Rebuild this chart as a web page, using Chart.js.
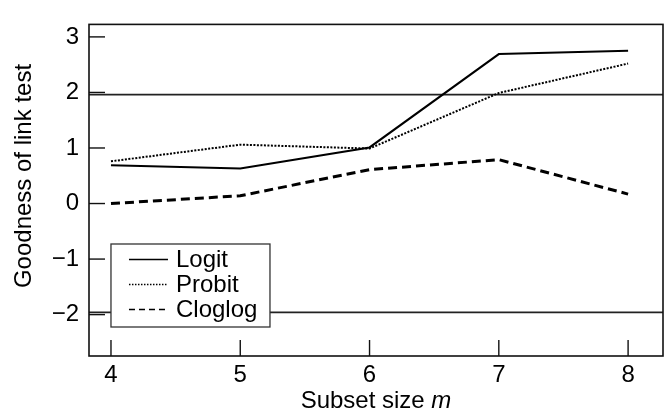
<!DOCTYPE html>
<html>
<head>
<meta charset="utf-8">
<script src="https://cdn.jsdelivr.net/npm/chart.js@4/dist/chart.umd.min.js"></script>
<style>
  html, body { margin: 0; padding: 0; background: #fff; }
  #wrap { width: 670px; height: 419px; }
</style>
</head>
<body>
<div id="wrap"><canvas id="c" width="670" height="419"></canvas></div>
<script>
const subsetSizes = [4, 5, 6, 7, 8];
const logitValues = [0.69, 0.63, 1.01, 2.69, 2.75];
const probitValues = [0.76, 1.06, 0.99, 1.99, 2.52];
const cloglogValues = [0.00, 0.14, 0.61, 0.79, 0.17];
const seriesLabels = ['Logit', 'Probit', 'Cloglog'];
const xTickValues = [4, 5, 6, 7, 8];
const yTickValues = [3, 2, 1, 0, -1, -2];
const yTickLabels = ['3', '2', '1', '0', '\u22121', '\u22122'];
const criticalValues = [1.96, -1.96];
const xTitleMain = 'Subset size ';
const xTitleItalic = 'm';
const yTitle = 'Goodness of link test';

const FONT = '"Liberation Sans", Arial, Helvetica, sans-serif';
const FS = 24;

function pts(vals) { return subsetSizes.map((x, i) => ({ x: x, y: vals[i] })); }

const styles = [
  { borderWidth: 2, borderDash: [], legendDash: [], legendWidth: 1.5 },
  { borderWidth: 2, borderDash: [2, 1.5], legendDash: [1.5, 1.5], legendWidth: 1.5 },
  { borderWidth: 3, borderDash: [9, 5], legendDash: [6, 4], legendWidth: 1.5 }
];

const datasets = [logitValues, probitValues, cloglogValues].map((vals, i) => ({
  label: seriesLabels[i],
  data: pts(vals),
  borderColor: '#000',
  backgroundColor: '#000',
  borderWidth: styles[i].borderWidth,
  borderDash: styles[i].borderDash,
  pointRadius: 0,
  tension: 0,
  fill: false
}));

const decorPlugin = {
  id: 'decor',
  beforeDatasetsDraw(chart) {
    const { ctx, chartArea: a, scales: { y } } = chart;
    ctx.save();
    ctx.strokeStyle = '#222';
    ctx.lineWidth = 1.6;
    criticalValues.forEach(v => {
      const py = y.getPixelForValue(v);
      ctx.beginPath();
      ctx.moveTo(a.left, py);
      ctx.lineTo(a.right, py);
      ctx.stroke();
    });
    ctx.restore();
  },
  afterDraw(chart) {
    const { ctx, chartArea: a, scales: { x, y } } = chart;
    ctx.save();
    // frame
    ctx.strokeStyle = '#111';
    ctx.lineWidth = 1.6;
    ctx.strokeRect(a.left, a.top, a.right - a.left, a.bottom - a.top);
    // inward ticks
    ctx.lineWidth = 1.4;
    x.ticks.forEach(t => {
      const px = x.getPixelForValue(t.value);
      ctx.beginPath();
      ctx.moveTo(px, a.bottom);
      ctx.lineTo(px, a.bottom - 16);
      ctx.stroke();
    });
    y.ticks.forEach(t => {
      const py = y.getPixelForValue(t.value);
      ctx.beginPath();
      ctx.moveTo(a.left, py);
      ctx.lineTo(a.left + 16, py);
      ctx.stroke();
    });
    // legend
    const lx = x.getPixelForValue(4);
    const ly = 244;
    const lw = 159, lh = 83;
    ctx.fillStyle = '#fff';
    ctx.fillRect(lx, ly, lw, lh);
    ctx.strokeStyle = '#333';
    ctx.lineWidth = 1.3;
    ctx.strokeRect(lx, ly, lw, lh);
    ctx.font = FS + 'px ' + FONT;
    ctx.textBaseline = 'middle';
    ctx.textAlign = 'left';
    ctx.fillStyle = '#000';
    chart.data.datasets.forEach((ds, i) => {
      const ry = ly + 15.5 + i * 25;
      ctx.strokeStyle = '#000';
      ctx.lineWidth = styles[i].legendWidth;
      ctx.setLineDash(styles[i].legendDash);
      ctx.beginPath();
      ctx.moveTo(lx + 18, ry);
      ctx.lineTo(lx + 57, ry);
      ctx.stroke();
      ctx.setLineDash([]);
      ctx.fillText(ds.label, lx + 65, ry + 1);
    });
    // x title
    ctx.font = FS + 'px ' + FONT;
    const w1 = ctx.measureText(xTitleMain).width;
    ctx.font = 'italic ' + FS + 'px ' + FONT;
    const w2 = ctx.measureText(xTitleItalic).width;
    const cx = (a.left + a.right) / 2;
    const startX = cx - (w1 + w2) / 2;
    const ty = 401;
    ctx.textAlign = 'left';
    ctx.font = FS + 'px ' + FONT;
    ctx.fillText(xTitleMain, startX, ty);
    ctx.font = 'italic ' + FS + 'px ' + FONT;
    ctx.fillText(xTitleItalic, startX + w1, ty);
    // y title
    ctx.translate(24, 176);
    ctx.rotate(-Math.PI / 2);
    ctx.textAlign = 'center';
    ctx.font = FS + 'px ' + FONT;
    ctx.fillText(yTitle, 0, 0);
    ctx.restore();
  }
};

new Chart(document.getElementById('c'), {
  type: 'line',
  data: { datasets: datasets },
  plugins: [decorPlugin],
  options: {
    responsive: false,
    animation: false,
    devicePixelRatio: 1,
    layout: { padding: { top: 12, right: 7, left: 0, bottom: 0 } },
    plugins: { legend: { display: false }, tooltip: { enabled: false } },
    scales: {
      x: {
        type: 'linear',
        min: 3.83,
        max: 8.27,
        afterBuildTicks(s) { s.ticks = xTickValues.map(v => ({ value: v })); },
        afterFit(s) { s.height = 63; },
        grid: { display: false, drawTicks: false },
        border: { display: false },
        ticks: {
          color: '#000',
          padding: 5,
          maxRotation: 0,
          font: { family: FONT, size: FS },
          callback: (v) => String(v)
        }
      },
      y: {
        type: 'linear',
        min: -2.745,
        max: 3.225,
        afterBuildTicks(s) { s.ticks = yTickValues.map(v => ({ value: v })); },
        afterFit(s) { s.width = 89; },
        grid: { display: false, drawTicks: false },
        border: { display: false },
        ticks: {
          color: '#000',
          padding: 10,
          font: { family: FONT, size: FS },
          callback: (v) => yTickLabels[yTickValues.indexOf(v)]
        }
      }
    }
  }
});
</script>
</body>
</html>
